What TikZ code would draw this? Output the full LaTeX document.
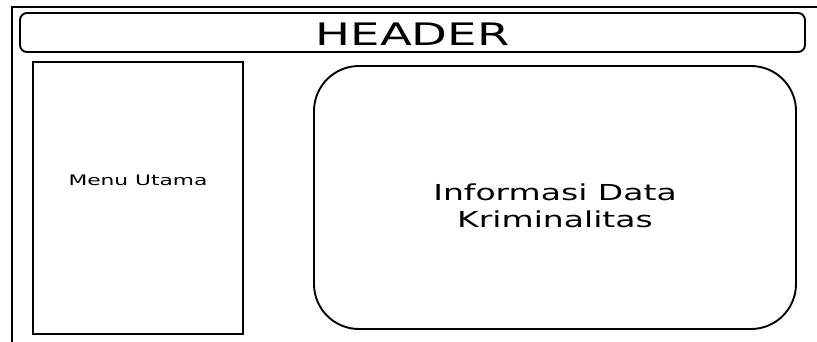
\documentclass[tikz,border=0pt]{standalone}
\usepackage{fontspec}
\setmainfont{DejaVu Sans}
\newfontfamily\widefont[FakeStretch=1.5]{DejaVu Sans}
\usetikzlibrary{positioning}

\begin{document}
\begin{tikzpicture}[x=1pt,y=-1pt,
    box/.style={draw,line width=1.9pt,inner sep=0pt,align=center}]

    \useasboundingbox (0,0) rectangle (817,341);
    % page frame, cut off at right and bottom
    \draw [line width=2.2pt] (12,345) -- (12,7) -- (822,7);

    \node [box,rounded corners=7pt,minimum width=785pt,minimum height=39pt,text height=25.5pt,
      font=\widefont\fontsize{31}{36}\selectfont] (header) at (412.5,32.5) {HEADER};
    \node [box,minimum width=210pt,minimum height=272pt] (menu) at (138,198) {};
    \node [font=\widefont\fontsize{14.5}{17}\selectfont] (menutext) at ([yshift=18pt]menu.center) {Menu Utama};
    \node [box,rounded corners=45pt,minimum width=482pt,minimum height=263pt] (info) at (555,197.5) {};
    \node [align=center,font=\widefont\fontsize{22}{26.5}\selectfont] (infotext)
      at ([yshift=-8.5pt]info.center) {Informasi Data\\Kriminalitas};
\end{tikzpicture}
\end{document}
